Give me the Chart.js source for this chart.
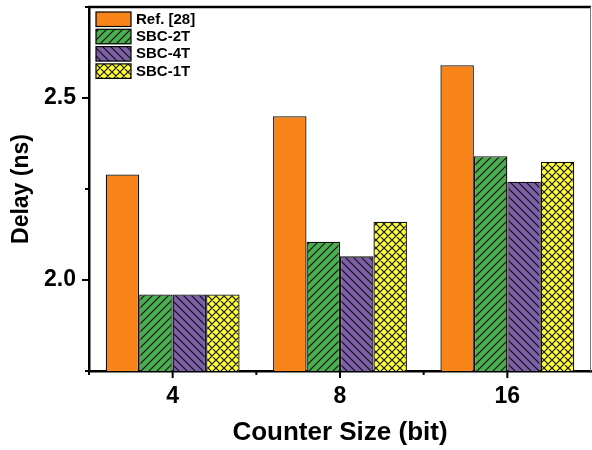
<!DOCTYPE html>
<html>
<head>
<meta charset="utf-8">
<script src="https://cdn.jsdelivr.net/npm/chart.js@4/dist/chart.umd.min.js"></script>
<style>
html,body{margin:0;padding:0;background:#fff;overflow:hidden;}
canvas{display:block;}
</style>
</head>
<body>
<canvas id="c" width="592" height="450"></canvas>
<script>
// ---- data ----
const categories = ['4', '8', '16'];
const seriesNames = ['Ref. [28]', 'SBC-2T', 'SBC-4T', 'SBC-1T'];
const refValues = [2.29, 2.45, 2.59];
const sbc2tValues = [1.96, 2.105, 2.34];
const sbc4tValues = [1.96, 2.065, 2.27];
const sbc1tValues = [1.96, 2.16, 2.325];
const yTickValues = [1.75, 2.0, 2.25, 2.5, 2.75];
const yTickLabels = ['', '2.0', '', '2.5', ''];
const xTitle = 'Counter Size (bit)';
const yTitle = 'Delay (ns)';

// ---- patterns ----
function makePattern(bg, type, s) {
  const cv = document.createElement('canvas');
  cv.width = s; cv.height = s;
  const g = cv.getContext('2d');
  g.fillStyle = bg; g.fillRect(0, 0, s, s);
  g.strokeStyle = '#111'; g.lineWidth = 1.2;
  g.beginPath();
  if (type === 'fwd' || type === 'cross') {
    g.moveTo(-1, s + 1); g.lineTo(s + 1, -1);
    g.moveTo(-1, 1); g.lineTo(1, -1);
    g.moveTo(s - 1, s + 1); g.lineTo(s + 1, s - 1);
  }
  if (type === 'back' || type === 'cross') {
    g.moveTo(-1, -1); g.lineTo(s + 1, s + 1);
    g.moveTo(s - 1, -1); g.lineTo(s + 1, 1);
    g.moveTo(-1, s - 1); g.lineTo(1, s + 1);
  }
  g.stroke();
  return g.createPattern(cv, 'repeat');
}
const ctx = document.getElementById('c').getContext('2d');
const fills = [
  '#F9841A',
  makePattern('#4BAE4C', 'fwd', 8),
  makePattern('#7D5FA8', 'back', 8),
  makePattern('#FFFF33', 'cross', 8)
];
const allValues = [refValues, sbc2tValues, sbc4tValues, sbc1tValues];

const frame = {
  id: 'frame',
  afterDraw(chart) {
    const a = chart.chartArea, c = chart.ctx;
    const ys = chart.scales.y, xs = chart.scales.x;
    c.save();
    c.strokeStyle = '#000'; c.lineWidth = 2.5;
    c.beginPath(); c.moveTo(a.left - 1, a.top); c.lineTo(a.right, a.top); c.stroke();
    c.strokeStyle = '#777'; c.lineWidth = 1;
    c.beginPath(); c.moveTo(a.right - 0.5, a.top); c.lineTo(a.right - 0.5, a.bottom); c.stroke();
    c.strokeStyle = '#000'; c.lineWidth = 2;
    yTickValues.forEach((v, i) => {
      const y = ys.getPixelForValue(v);
      const len = yTickLabels[i] ? 7 : 4;
      c.beginPath(); c.moveTo(a.left, y); c.lineTo(a.left - len, y); c.stroke();
    });
    const step = xs.getPixelForValue(1) - xs.getPixelForValue(0);
    for (let i = 0; i < categories.length; i++) {
      const x = xs.getPixelForValue(i);
      c.beginPath(); c.moveTo(x, a.bottom); c.lineTo(x, a.bottom + 7); c.stroke();
      const bx = x - step / 2;
      c.beginPath(); c.moveTo(bx, a.bottom); c.lineTo(bx, a.bottom + 4); c.stroke();
    }
    // legend
    const lx = a.left + 7, bw = 35, bh = 14.5, pitch = 17.3;
    chart.data.datasets.forEach((ds, i) => {
      const y = 12 + i * pitch;
      c.fillStyle = ds.backgroundColor;
      c.fillRect(lx, y, bw, bh);
      c.strokeStyle = '#000'; c.lineWidth = 1.2;
      c.strokeRect(lx, y, bw, bh);
      c.fillStyle = '#000';
      c.font = 'bold 15px "Liberation Sans", Arial, sans-serif';
      c.textBaseline = 'middle';
      c.fillText(ds.label, lx + bw + 5, y + bh / 2 + 0.5);
    });
    c.restore();
  }
};

new Chart(ctx, {
  type: 'bar',
  data: {
    labels: categories,
    datasets: seriesNames.map((n, i) => ({
      label: n,
      data: allValues[i],
      backgroundColor: fills[i],
      borderColor: '#111',
      borderWidth: 1.3,
      categoryPercentage: 0.8,
      barPercentage: 1.0
    }))
  },
  options: {
    responsive: false,
    animation: false,
    devicePixelRatio: 1,
    layout: { padding: { top: 7, right: 1, left: 0, bottom: 0 } },
    plugins: { legend: { display: false }, tooltip: { enabled: false } },
    scales: {
      x: {
        grid: { display: false, drawTicks: false },
        border: { display: true, color: '#000', width: 2.5 },
        ticks: { color: '#000', padding: 12, font: { family: '"Liberation Sans", Arial', size: 23, weight: 'bold' } },
        title: { display: true, text: xTitle, color: '#000', padding: { top: 0, bottom: 4 },
                 font: { family: '"Liberation Sans", Arial', size: 26, weight: 'bold', lineHeight: 1 } },
        afterFit: s => { s.height = 79; s.paddingLeft = 0; s.paddingRight = 0; }
      },
      y: {
        min: 1.75, max: 2.75,
        afterBuildTicks: s => { s.ticks = yTickValues.map(v => ({ value: v })); },
        grid: { display: false, drawTicks: false },
        border: { display: true, color: '#000', width: 2.5 },
        ticks: {
          color: '#000', padding: 13,
          font: { family: '"Liberation Sans", Arial', size: 23, weight: 'bold' },
          callback: (v, i) => yTickLabels[i]
        },
        title: { display: true, text: yTitle, color: '#000', padding: { top: 10.5, bottom: 0 },
                 font: { family: '"Liberation Sans", Arial', size: 23, weight: 'bold', lineHeight: 1 } },
        afterFit: s => { s.width = 89; s.paddingTop = 0; s.paddingBottom = 0; }
      }
    }
  },
  plugins: [frame]
});
</script>
</body>
</html>
